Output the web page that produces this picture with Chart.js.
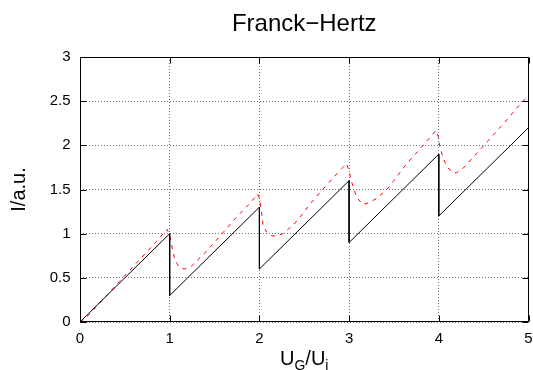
<!DOCTYPE html>
<html>
<head>
<meta charset="utf-8">
<script src="https://cdn.jsdelivr.net/npm/chart.js@4.4.1/dist/chart.umd.min.js"></script>
<style>
  html, body { margin: 0; padding: 0; background: #fff; }
</style>
</head>
<body>
<canvas id="chart" width="533" height="370"></canvas>
<script>
const titleText = 'Franck\u2212Hertz'
const yLabel = 'I/a.u.'

// black: ideal sawtooth
const idealX = [0, 1, 1, 2, 2, 3, 3, 4, 4, 5]
const idealY = [0, 1, 0.3, 1.3, 0.6, 1.6, 0.9, 1.9, 1.2, 2.2]

// red dashed: measured curve
const measX = [0, 0.10, 0.44, 0.66, 0.85, 0.97, 1.00, 1.02, 1.05, 1.08, 1.12, 1.17, 1.24, 1.41, 1.74, 1.90, 1.98,
    2.00, 2.02, 2.04, 2.08, 2.13, 2.18, 2.26, 2.38, 2.47, 2.56, 2.67, 2.82, 2.92, 2.97,
    3.00, 3.02, 3.05, 3.08, 3.15, 3.22, 3.31, 3.42, 3.49, 3.64, 3.80, 3.97,
    4.00, 4.01, 4.05, 4.09, 4.15, 4.20, 4.27, 4.46, 4.61, 4.76, 4.91, 5.00]
const measY = [0, 0.08, 0.46, 0.70, 0.91, 1.05, 0.98, 0.88, 0.74, 0.66, 0.61, 0.60, 0.63, 0.80, 1.18, 1.35, 1.45,
    1.40, 1.27, 1.10, 1.02, 0.98, 0.97, 1.00, 1.10, 1.21, 1.33, 1.46, 1.63, 1.74, 1.79,
    1.72, 1.61, 1.52, 1.42, 1.33, 1.35, 1.40, 1.50, 1.59, 1.79, 1.97, 2.17,
    2.08, 1.99, 1.85, 1.76, 1.69, 1.69, 1.74, 1.95, 2.12, 2.29, 2.47, 2.56]

const xTicks = [0, 1, 2, 3, 4, 5]
const yTicks = [0, 0.5, 1, 1.5, 2, 2.5, 3]

const FONT = "'Liberation Sans', Arial, sans-serif"

function pts(xs, ys) {
    return xs.map((x, i) => ({x: x, y: ys[i]}))
}

// gnuplot-like frame with inward ticks on all four sides
const framePlugin = {
    id: 'frame',
    afterDatasetsDraw(chart) {
        const {ctx, chartArea: a, scales} = chart
        const l = Math.round(a.left) + 0.5, r = Math.round(a.right) - 0.5
        const t = Math.round(a.top) + 0.5, b = Math.round(a.bottom) - 0.5
        const len = 6
        ctx.save()
        ctx.strokeStyle = '#000'
        ctx.lineWidth = 1
        ctx.setLineDash([])
        ctx.beginPath()
        for (const v of xTicks) {
            const px = Math.round(scales.x.getPixelForValue(v)) + 0.5
            ctx.moveTo(px, b); ctx.lineTo(px, b - len)
            ctx.moveTo(px, t); ctx.lineTo(px, t + len)
        }
        for (const v of yTicks) {
            const py = Math.round(scales.y.getPixelForValue(v)) + 0.5
            ctx.moveTo(l, py); ctx.lineTo(l + len, py)
            ctx.moveTo(r, py); ctx.lineTo(r - len, py)
        }
        ctx.rect(l, t, r - l, b - t)
        ctx.stroke()
        ctx.restore()
    }
}

// x axis title with subscripts: U_G/U_i
const xTitlePlugin = {
    id: 'xTitle',
    afterDraw(chart) {
        const {ctx, chartArea: a} = chart
        const parts = [
            {t: 'U', size: 20, dy: 0},
            {t: 'G', size: 14, dy: 5},
            {t: '/U', size: 20, dy: 0},
            {t: 'i', size: 14, dy: 5}
        ]
        ctx.save()
        ctx.fillStyle = '#000'
        ctx.textBaseline = 'alphabetic'
        let w = 0
        for (const p of parts) {
            ctx.font = p.size + 'px ' + FONT
            p.w = ctx.measureText(p.t).width
            w += p.w
        }
        let x = (a.left + a.right) / 2 - w / 2
        const base = 365
        for (const p of parts) {
            ctx.font = p.size + 'px ' + FONT
            ctx.fillText(p.t, x, base + p.dy)
            x += p.w
        }
        ctx.restore()
    }
}

const ctx = document.getElementById('chart').getContext('2d')
new Chart(ctx, {
    type: 'scatter',
    data: {
        datasets: [{
            data: pts(idealX, idealY),
            showLine: true,
            borderColor: '#000',
            borderWidth: 1,
            pointRadius: 0,
            tension: 0
        }, {
            data: pts(measX, measY),
            showLine: true,
            borderColor: '#ff0000',
            borderWidth: 1,
            borderDash: [4, 5],
            pointRadius: 0,
            tension: 0
        }]
    },
    options: {
        responsive: false,
        animation: false,
        devicePixelRatio: 1,
        layout: {padding: {left: 0, right: 4.5, top: 0, bottom: 0}},
        plugins: {
            legend: {display: false},
            tooltip: {enabled: false},
            title: {
                display: true,
                text: titleText,
                fullSize: false,
                color: '#000',
                font: {family: FONT, size: 24, weight: 'normal'},
                padding: {top: 10.4, bottom: 17.8}
            }
        },
        scales: {
            x: {
                type: 'linear',
                min: 0,
                max: 5,
                afterBuildTicks: s => { s.ticks = xTicks.map(v => ({value: v})) },
                afterFit: s => { s.height = 48; s.paddingLeft = 0; s.paddingRight = 0 },
                ticks: {color: '#000', padding: 7.5, font: {family: FONT, size: 15}, maxRotation: 0,
                    callback: v => String(v)},
                grid: {color: 'rgba(0,0,0,0.55)', lineWidth: 1, drawTicks: false},
                border: {display: false, dash: [1, 2]}
            },
            y: {
                type: 'linear',
                min: 0,
                max: 3,
                afterBuildTicks: s => { s.ticks = yTicks.map(v => ({value: v})) },
                afterFit: s => { s.width = 80; s.paddingTop = 0; s.paddingBottom = 0 },
                ticks: {color: '#000', padding: 9.5, font: {family: FONT, size: 15},
                    callback: v => String(v)},
                grid: {color: 'rgba(0,0,0,0.55)', lineWidth: 1, drawTicks: false},
                border: {display: false, dash: [1, 2]},
                title: {
                    display: true,
                    text: yLabel,
                    color: '#000',
                    font: {family: FONT, size: 20},
                    padding: {top: 7, bottom: 0}
                }
            }
        }
    },
    plugins: [framePlugin, xTitlePlugin]
})
</script>
</body>
</html>
